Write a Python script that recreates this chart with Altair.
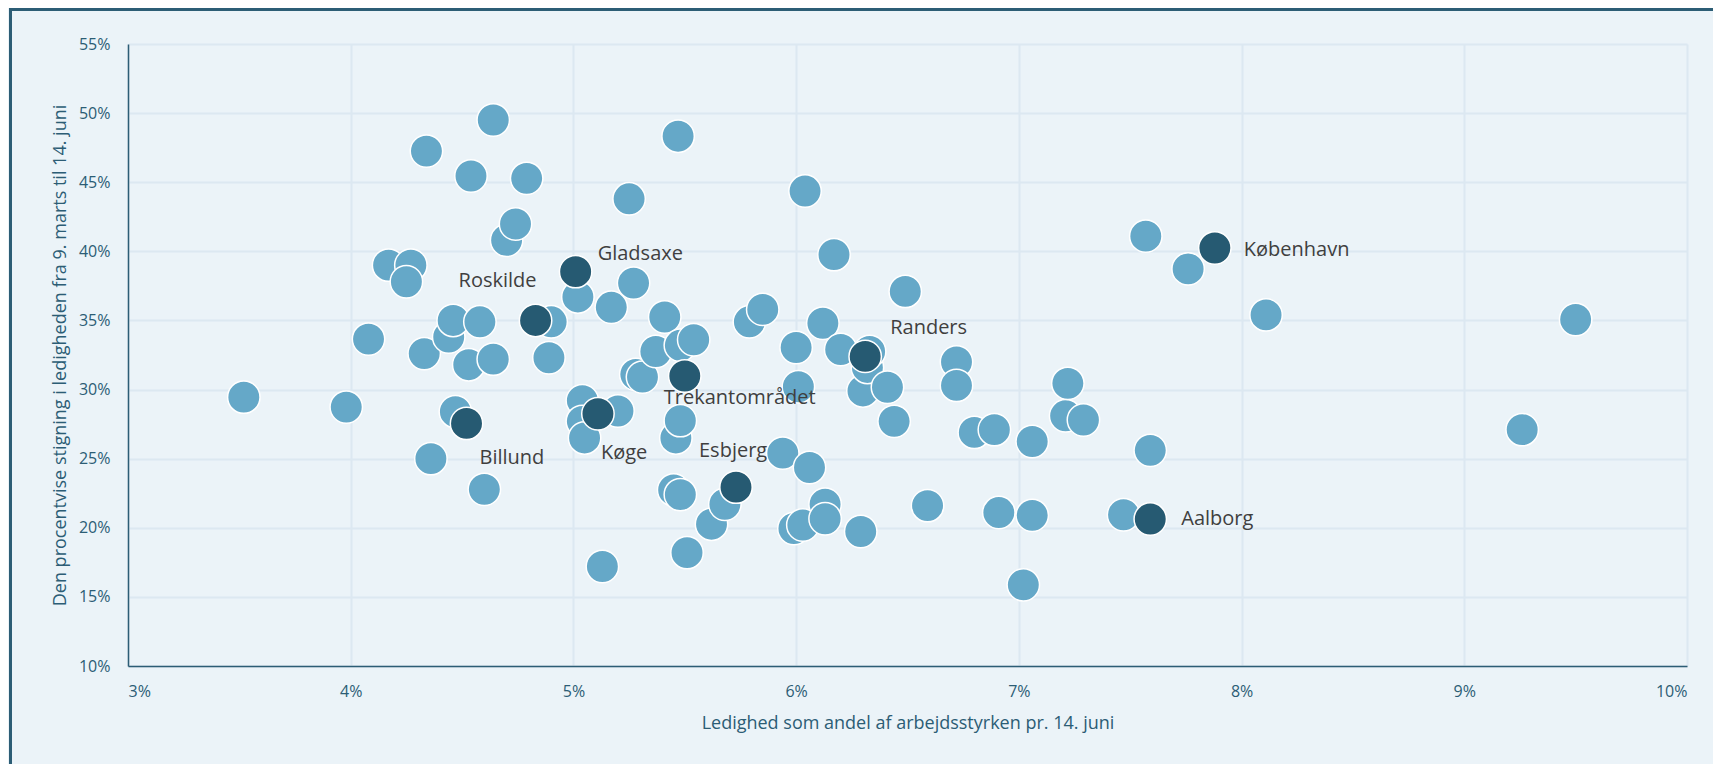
import altair as alt
import pandas as pd

# ---- data (percent values) ----
other_x = [3.52, 3.98, 4.08, 4.17, 4.27, 4.25, 4.33, 4.34, 4.36, 4.44, 4.46, 4.47, 4.53, 4.54,
           4.58, 4.60, 4.64, 4.64, 4.70, 4.74, 4.79, 4.89, 4.90, 5.02, 5.04, 5.04, 5.05, 5.13,
           5.17, 5.20, 5.25, 5.27, 5.28, 5.31, 5.37, 5.41, 5.45, 5.46, 5.47, 5.48, 5.48, 5.48,
           5.51, 5.54, 5.62, 5.68, 5.79, 5.85, 5.94, 5.99, 6.00, 6.01, 6.03, 6.04, 6.06, 6.12,
           6.13, 6.13, 6.17, 6.20, 6.29, 6.30, 6.32, 6.33, 6.41, 6.44, 6.49, 6.59, 6.72, 6.72,
           6.80, 6.89, 6.91, 7.02, 7.06, 7.06, 7.21, 7.22, 7.29, 7.47, 7.57, 7.59, 7.76, 8.11,
           9.26, 9.50]
other_y = [29.45, 28.73, 33.65, 39.0, 39.0, 37.8, 32.6, 47.25, 25.0, 33.8, 35.0, 28.4, 31.8, 45.45,
           34.9, 22.78, 49.5, 32.2, 40.8, 41.98, 45.28, 32.3, 34.9, 36.7, 29.2, 27.7, 26.5, 17.2,
           35.95, 28.45, 43.8, 37.7, 31.1, 30.9, 32.75, 35.25, 22.74, 26.5, 48.33, 27.75, 33.2, 22.4,
           18.2, 33.6, 20.26, 21.7, 34.9, 35.8, 25.4, 19.95, 33.04, 30.2, 20.2, 44.36, 24.36, 34.8,
           21.7, 20.65, 39.76, 32.9, 19.73, 29.9, 31.6, 32.75, 30.17, 27.7, 37.1, 21.6, 32.0, 30.3,
           26.9, 27.1, 21.1, 15.87, 26.24, 20.9, 28.1, 30.45, 27.8, 20.94, 41.1, 25.6, 38.73, 35.4,
           27.1, 35.07]

city_names = ["Gladsaxe", "Roskilde", "Billund", "Køge", "Trekantområdet", "Esbjerg",
              "Randers", "København", "Aalborg"]
city_x = [5.01, 4.83, 4.52, 5.11, 5.50, 5.73, 6.31, 7.88, 7.59]
city_y = [38.53, 35.0, 27.55, 28.25, 30.98, 22.94, 32.4, 40.24, 20.63]

x_ticks = [3, 4, 5, 6, 7, 8, 9, 10]
y_ticks = [10, 15, 20, 25, 30, 35, 40, 45, 50, 55]

x_title = "Ledighed som andel af arbejdsstyrken pr. 14. juni"
y_title = "Den procentvise stigning i ledigheden fra 9. marts til 14. juni"

# ---- styles ----
LIGHT = "#65A8C8"
DARK = "#265A72"
AXIS_COL = "#2C5D75"
BG = "#EBF3F8"
GRID = "#DCE8F1"
FONT = "Open Sans"
W, H = 1559, 622
PAD_L, PAD_T, PAD_R, PAD_B = 120, 36, 26, 98
SIZE = 1050

# label placement (style): align, dx, dy in px relative to the point
label_style = {
    "Gladsaxe": ("left", 22, -18),
    "Roskilde": ("right", 1, -39),
    "Billund": ("left", 13, 35),
    "Køge": ("left", 3, 39),
    "Trekantområdet": ("left", -21, 22),
    "Esbjerg": ("left", -37, -36),
    "Randers": ("left", 25, -28),
    "København": ("left", 29, 2),
    "Aalborg": ("left", 31, 0),
}

others = pd.DataFrame({"x": other_x, "y": other_y})
cities = pd.DataFrame({"x": city_x, "y": city_y, "navn": city_names})

xs = alt.Scale(domain=[3, 10], nice=False, zero=False)
ys = alt.Scale(domain=[10, 55], nice=False, zero=False)

x_axis = alt.Axis(values=x_ticks, labelExpr="datum.value + '%'", title=x_title,
                  grid=True, gridColor=GRID, gridWidth=2, tickSize=0, labelPadding=17,
                  labelFont=FONT, labelFontSize=16, labelColor=AXIS_COL,
                  titleFont=FONT, titleFontSize=18, titleFontWeight="normal", titleColor=AXIS_COL,
                  titleY=57, titleBaseline="middle",
                  domainColor=AXIS_COL, domainWidth=1.5)
y_axis = alt.Axis(values=y_ticks, labelExpr="datum.value + '%'", title=y_title,
                  grid=True, gridColor=GRID, gridWidth=2, tickSize=0, labelPadding=18,
                  labelFont=FONT, labelFontSize=16, labelColor=AXIS_COL,
                  titleFont=FONT, titleFontSize=18, titleFontWeight="normal", titleColor=AXIS_COL,
                  titleX=-68, titleBaseline="middle",
                  domainColor=AXIS_COL, domainWidth=1.5)

one = pd.DataFrame({"a": [0]})
frame_top = alt.Chart(one).mark_rule(stroke=AXIS_COL, strokeWidth=3).encode(
    x=alt.value(-PAD_L + 1), x2=alt.value(W + PAD_R + 5), y=alt.value(-PAD_T + 1.5))
frame_left = alt.Chart(one).mark_rule(stroke=AXIS_COL, strokeWidth=3).encode(
    x=alt.value(-PAD_L + 2.5), y=alt.value(-PAD_T + 0), y2=alt.value(H + PAD_B + 5))

pts_other = alt.Chart(others).mark_circle(
    size=SIZE, color=LIGHT, opacity=1, stroke="white", strokeWidth=1.5
).encode(x=alt.X("x:Q", scale=xs, axis=x_axis), y=alt.Y("y:Q", scale=ys, axis=y_axis))

pts_city = alt.Chart(cities).mark_circle(
    size=SIZE, color=DARK, opacity=1, stroke="white", strokeWidth=1.5
).encode(x=alt.X("x:Q", scale=xs), y=alt.Y("y:Q", scale=ys))

texts = []
for name in city_names:
    align, dx, dy = label_style[name]
    texts.append(
        alt.Chart(cities).transform_filter(alt.datum.navn == name).mark_text(
            align=align, baseline="middle", dx=dx, dy=dy, font=FONT, fontSize=20, color="#3F3F3F"
        ).encode(x=alt.X("x:Q", scale=xs), y=alt.Y("y:Q", scale=ys), text="navn:N")
    )

chart = alt.layer(frame_top, frame_left, pts_other, pts_city, *texts).properties(
    width=W, height=H,
    autosize=alt.AutoSizeParams(type="none"),
    padding={"left": PAD_L, "top": PAD_T, "right": PAD_R, "bottom": PAD_B},
    background=BG,
).configure_view(stroke=None)

chart.save("out.html", embed_options={"renderer": "svg", "actions": False})
